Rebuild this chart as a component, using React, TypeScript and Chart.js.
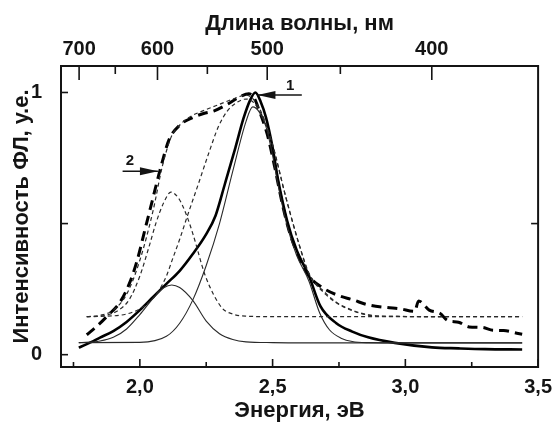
import React, { useEffect, useRef } from "react";
import { Chart, registerables } from "chart.js";

Chart.register(...registerables);

// ---- axis ranges & ticks ----
const X_MIN = 1.703;
const X_MAX = 3.5;
const Y_MIN = -0.047;
const Y_MAX = 1.101;
const xMajorTicks = [2.0, 2.5, 3.0, 3.5];
const xMinorTicks = [1.75, 2.25, 2.75, 3.25];
const nmMajorTicks = [700, 600, 500, 400];
const nmMinorTicks = [650, 550, 450];
const yLabelTicks = [0, 1];
const yLeftTickMarks = [0, 0.5, 1];
const yRightTickMarks = [0.5];
const HC_EV_NM = 1239.84;

// ---- curve 1 (thick solid, experimental) ----
const c1E = [1.77, 1.8, 1.85, 1.9, 1.95, 2.0, 2.05, 2.1, 2.15, 2.2, 2.25, 2.285, 2.32, 2.36, 2.39, 2.415, 2.435, 2.455, 2.475, 2.5, 2.52, 2.555, 2.59, 2.637, 2.68, 2.74, 2.8, 2.86, 2.96, 3.1, 3.2, 3.3, 3.44];
const c1I = [0.027, 0.04, 0.065, 0.09, 0.125, 0.17, 0.22, 0.27, 0.32, 0.385, 0.46, 0.53, 0.65, 0.79, 0.9, 0.97, 1.0, 0.965, 0.905, 0.79, 0.67, 0.51, 0.4, 0.3, 0.185, 0.12, 0.088, 0.066, 0.045, 0.028, 0.024, 0.021, 0.02];

// ---- curve 2 (thick dashed, experimental) ----
const c2E = [1.8, 1.84, 1.88, 1.925, 1.96, 1.99, 2.02, 2.05, 2.075, 2.11, 2.15, 2.2, 2.24, 2.28, 2.33, 2.38, 2.41, 2.43, 2.45, 2.48, 2.507, 2.54, 2.566, 2.6, 2.637, 2.69, 2.75, 2.8, 2.86, 2.93, 2.98, 3.035, 3.05, 3.09, 3.13, 3.16, 3.2, 3.24, 3.29, 3.33, 3.37, 3.42, 3.44];
const c2I = [0.076, 0.11, 0.15, 0.2, 0.27, 0.36, 0.48, 0.6, 0.7, 0.82, 0.875, 0.905, 0.92, 0.93, 0.955, 0.985, 0.995, 0.98, 0.93, 0.84, 0.72, 0.56, 0.46, 0.37, 0.3, 0.254, 0.225, 0.21, 0.19, 0.18, 0.175, 0.165, 0.205, 0.17, 0.158, 0.13, 0.124, 0.106, 0.104, 0.093, 0.092, 0.082, 0.078];

// ---- curve 1 components (thin solid) ----
const aE = [1.77, 1.85, 1.9, 1.95, 2.0, 2.05, 2.09, 2.12, 2.15, 2.2, 2.25, 2.3, 2.35, 2.4, 2.5, 2.7, 3.0, 3.44];
const aI = [0.046, 0.052, 0.066, 0.098, 0.153, 0.215, 0.255, 0.266, 0.256, 0.206, 0.128, 0.08, 0.058, 0.049, 0.046, 0.045, 0.045, 0.045];
const bE = [1.77, 2.0, 2.1, 2.15, 2.2, 2.25, 2.3, 2.35, 2.4, 2.425, 2.45, 2.475, 2.5, 2.52, 2.555, 2.59, 2.637, 2.677, 2.714, 2.76, 2.8, 2.86, 3.0, 3.44];
const bI = [0.046, 0.047, 0.07, 0.12, 0.21, 0.34, 0.5, 0.7, 0.89, 0.945, 0.925, 0.87, 0.76, 0.65, 0.49, 0.38, 0.28, 0.16, 0.095, 0.062, 0.05, 0.046, 0.045, 0.045];

// ---- curve 2 fit (thin dashed): envelope and components ----
const eE = [1.8, 1.85, 1.9, 1.95, 2.0, 2.05, 2.085, 2.12, 2.15, 2.185, 2.25, 2.3, 2.35, 2.4, 2.45, 2.5, 2.55, 2.6, 2.637, 2.7, 2.74, 2.8, 2.86, 2.95, 3.16];
const eI = [0.145, 0.15, 0.17, 0.23, 0.36, 0.55, 0.72, 0.835, 0.875, 0.905, 0.935, 0.955, 0.975, 0.99, 0.94, 0.8, 0.6, 0.42, 0.31, 0.235, 0.2, 0.17, 0.152, 0.146, 0.145];
const cE = [1.8, 1.87, 1.92, 1.96, 2.0, 2.037, 2.06, 2.09, 2.117, 2.15, 2.178, 2.2, 2.247, 2.308, 2.35, 2.4, 2.5, 3.44];
const cI = [0.145, 0.15, 0.17, 0.21, 0.3, 0.42, 0.5, 0.58, 0.62, 0.59, 0.526, 0.46, 0.3, 0.18, 0.155, 0.147, 0.145, 0.145];
const dE = [1.8, 1.85, 1.95, 2.0, 2.04, 2.075, 2.1, 2.125, 2.15, 2.178, 2.22, 2.26, 2.296, 2.33, 2.37, 2.4, 2.43, 2.47, 2.5, 2.55, 2.6, 2.637, 2.7, 2.74, 2.8, 2.86, 2.95, 3.44];
const dI = [0.145, 0.146, 0.155, 0.175, 0.205, 0.25, 0.3, 0.37, 0.44, 0.526, 0.65, 0.77, 0.87, 0.93, 0.965, 0.975, 0.96, 0.89, 0.8, 0.6, 0.42, 0.31, 0.23, 0.198, 0.168, 0.151, 0.146, 0.145];

// ---- annotations (data coordinates) ----
const arrowLabels = ["1", "2"];
const arrowTailE = [2.61, 1.935];
const arrowTailI = [0.99, 0.70];
const arrowTipE = [2.443, 2.068];
const arrowTipI = [0.99, 0.70];
const arrowTextE = [2.566, 1.963];
const arrowTextI = [1.024, 0.738];

const FONT = "'Liberation Sans', Arial, sans-serif";
const INK = "#141414";
const THIN = "#2a2a2a";

const pts = (xs: number[], ys: number[]) => xs.map((x, i) => ({ x, y: ys[i] }));

const frameTicks = {
  id: "frameTicks",
  afterDatasetsDraw(chart: any) {
    const { ctx, chartArea: a, scales } = chart;
    const xs = scales.x;
    const ys = scales.y;
    ctx.save();
    ctx.strokeStyle = INK;
    ctx.lineWidth = 2;
    ctx.strokeRect(a.left, a.top, a.right - a.left, a.bottom - a.top);
    ctx.lineWidth = 1.6;
    const vt = (px: number, y0: number, len: number) => {
      ctx.beginPath();
      ctx.moveTo(px, y0);
      ctx.lineTo(px, y0 + len);
      ctx.stroke();
    };
    const ht = (py: number, x0: number, len: number) => {
      ctx.beginPath();
      ctx.moveTo(x0, py);
      ctx.lineTo(x0 + len, py);
      ctx.stroke();
    };
    xMajorTicks.forEach((v) => vt(xs.getPixelForValue(v), a.bottom, -8));
    xMinorTicks.forEach((v) => vt(xs.getPixelForValue(v), a.bottom, -5));
    nmMajorTicks.forEach((nm) => vt(xs.getPixelForValue(HC_EV_NM / nm), a.top, 14));
    nmMinorTicks.forEach((nm) => vt(xs.getPixelForValue(HC_EV_NM / nm), a.top, 8));
    yLeftTickMarks.forEach((v) => ht(ys.getPixelForValue(v), a.left, 7));
    yRightTickMarks.forEach((v) => ht(ys.getPixelForValue(v), a.right, -7));
    ctx.restore();
  },
};

const arrowsPlugin = {
  id: "arrowsPlugin",
  afterDatasetsDraw(chart: any) {
    const { ctx, scales } = chart;
    const xs = scales.x;
    const ys = scales.y;
    ctx.save();
    ctx.strokeStyle = INK;
    ctx.fillStyle = INK;
    arrowLabels.forEach((lab, i) => {
      const x0 = xs.getPixelForValue(arrowTailE[i]);
      const y0 = ys.getPixelForValue(arrowTailI[i]);
      const x1 = xs.getPixelForValue(arrowTipE[i]);
      const y1 = ys.getPixelForValue(arrowTipI[i]);
      ctx.lineWidth = 1.5;
      ctx.beginPath();
      ctx.moveTo(x0, y0);
      ctx.lineTo(x1, y1);
      ctx.stroke();
      const dir = Math.sign(x1 - x0);
      ctx.beginPath();
      ctx.moveTo(x1, y1);
      ctx.lineTo(x1 - dir * 18, y1 - 4);
      ctx.lineTo(x1 - dir * 18, y1 + 4);
      ctx.closePath();
      ctx.fill();
      ctx.font = `bold 15px ${FONT}`;
      ctx.textAlign = "center";
      ctx.textBaseline = "middle";
      ctx.fillText(lab, xs.getPixelForValue(arrowTextE[i]), ys.getPixelForValue(arrowTextI[i]));
    });
    ctx.restore();
  },
};

export default function App() {
  const ref = useRef<HTMLCanvasElement | null>(null);
  useEffect(() => {
    const canvas = ref.current;
    if (!canvas) return;
    const thinDashed = { borderColor: THIN, borderWidth: 1.2, borderDash: [4, 3] };
    const thinSolid = { borderColor: THIN, borderWidth: 1.1 };
    const chart = new Chart(canvas, {
      type: "line",
      data: {
        datasets: [
          { label: "C", data: pts(cE, cI), ...thinDashed },
          { label: "D", data: pts(dE, dI), ...thinDashed },
          { label: "fit2", data: pts(eE, eI), ...thinDashed },
          { label: "A", data: pts(aE, aI), ...thinSolid },
          { label: "B", data: pts(bE, bI), ...thinSolid },
          { label: "2", data: pts(c2E, c2I), borderColor: "#000", borderWidth: 3, borderDash: [10, 6] },
          { label: "1", data: pts(c1E, c1I), borderColor: "#000", borderWidth: 2.6 },
        ] as any,
      },
      options: {
        responsive: false,
        animation: false,
        events: [],
        layout: { padding: { left: 0, right: 15, top: 0, bottom: 0 } },
        elements: {
          point: { radius: 0 },
          line: { cubicInterpolationMode: "monotone", fill: false },
        },
        plugins: { legend: { display: false }, tooltip: { enabled: false } },
        scales: {
          x: {
            type: "linear",
            position: "bottom",
            min: X_MIN,
            max: X_MAX,
            afterBuildTicks: (s: any) => {
              s.ticks = xMajorTicks.map((v) => ({ value: v }));
            },
            afterFit: (s: any) => {
              s.height = 59;
            },
            grid: { display: false, drawTicks: false },
            border: { display: false },
            ticks: {
              autoSkip: false,
              maxRotation: 0,
              minRotation: 0,
              padding: 8,
              color: INK,
              font: { family: FONT, size: 20, weight: "bold" },
              callback: (v: any) => Number(v).toFixed(1).replace(".", ","),
            },
            title: {
              display: true,
              text: "Энергия, эВ",
              color: INK,
              font: { family: FONT, size: 22, weight: "bold", lineHeight: 1 },
              padding: { top: 0, bottom: 4 },
            },
          },
          x2: {
            type: "linear",
            position: "top",
            min: X_MIN,
            max: X_MAX,
            afterBuildTicks: (s: any) => {
              s.ticks = nmMajorTicks.map((nm) => ({ value: HC_EV_NM / nm }));
            },
            afterFit: (s: any) => {
              s.height = 66;
            },
            grid: { display: false, drawTicks: false },
            border: { display: false },
            ticks: {
              autoSkip: false,
              maxRotation: 0,
              minRotation: 0,
              padding: 5,
              color: INK,
              font: { family: FONT, size: 20, weight: "bold" },
              callback: (_v: any, i: number) => String(nmMajorTicks[i]),
            },
            title: {
              display: true,
              text: "Длина волны, нм",
              color: INK,
              font: { family: FONT, size: 22, weight: "bold", lineHeight: 1 },
              padding: { top: 13, bottom: 0 },
            },
          },
          y: {
            type: "linear",
            position: "left",
            min: Y_MIN,
            max: Y_MAX,
            afterBuildTicks: (s: any) => {
              s.ticks = yLabelTicks.map((v) => ({ value: v }));
            },
            afterFit: (s: any) => {
              s.width = 61;
            },
            grid: { display: false, drawTicks: false },
            border: { display: false },
            ticks: {
              padding: 19,
              color: INK,
              font: { family: FONT, size: 20, weight: "bold" },
              callback: (v: any) => String(v),
            },
            title: {
              display: true,
              text: "Интенсивность ФЛ, у.е.",
              color: INK,
              font: { family: FONT, size: 22, weight: "bold", lineHeight: 1 },
              padding: { top: 11, bottom: 0 },
            },
          },
        },
      } as any,
      plugins: [frameTicks, arrowsPlugin],
    });
    return () => chart.destroy();
  }, []);
  return (
    <div style={{ position: "fixed", left: 0, top: 0, width: 560, height: 426, background: "#fff" }}>
      <canvas ref={ref} width={560} height={426} style={{ display: "block", width: 560, height: 426 }} />
    </div>
  );
}
